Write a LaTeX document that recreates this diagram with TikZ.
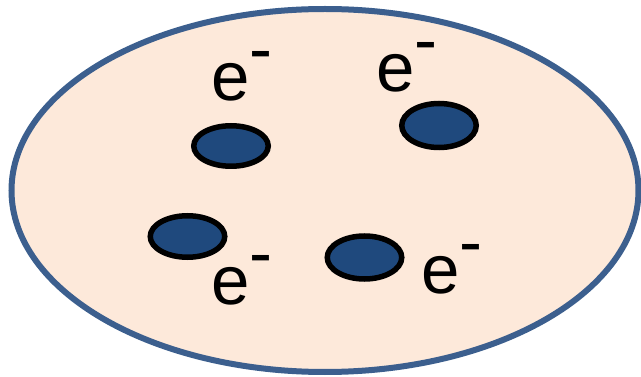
\documentclass[tikz,border=0pt]{standalone}
\usepackage{fontspec}
\setmainfont{Liberation Sans}
\usetikzlibrary{shapes.geometric}

\definecolor{peach}{RGB}{253,233,218}
\definecolor{rimblue}{RGB}{60,95,142}
\definecolor{dotblue}{RGB}{31,73,125}

\begin{document}
\begin{tikzpicture}[
  x=1pt, y=-1pt,
  cloud/.style={draw=rimblue, fill=peach, ellipse, line width=6pt,
                minimum width=627pt, minimum height=363pt, inner sep=0pt},
  electron/.style={draw=black, fill=dotblue, ellipse, line width=5.5pt,
                   minimum width=74.5pt, minimum height=40.5pt, inner sep=0pt},
  charge/.style={anchor=base west, inner sep=0pt, outer sep=0pt,
                 font=\fontsize{69}{69}\selectfont}
]
\useasboundingbox (0,0) rectangle (641,377);

% ===== atom body =====
\node[cloud] (atom) at (325,190.5) {};

% ===== electrons =====
\node[electron] (dotA) at (231,146) {};
\node[electron, minimum height=44pt] (dotB) at (439,125.5) {};
\node[electron, minimum height=41.5pt] (dotC) at (187.5,236.5) {};
\node[electron, minimum height=43pt] (dotD) at (364.5,257.5) {};

% ===== labels =====
\node[charge] (labA) at (211,101) {e\raisebox{28pt}{-}};
\node[charge] (labB) at (376,92) {e\raisebox{28pt}{-}};
\node[charge] (labC) at (211,305) {e\raisebox{28pt}{-}};
\node[charge] (labD) at (421,294) {e\raisebox{28pt}{-}};
\end{tikzpicture}
\end{document}
